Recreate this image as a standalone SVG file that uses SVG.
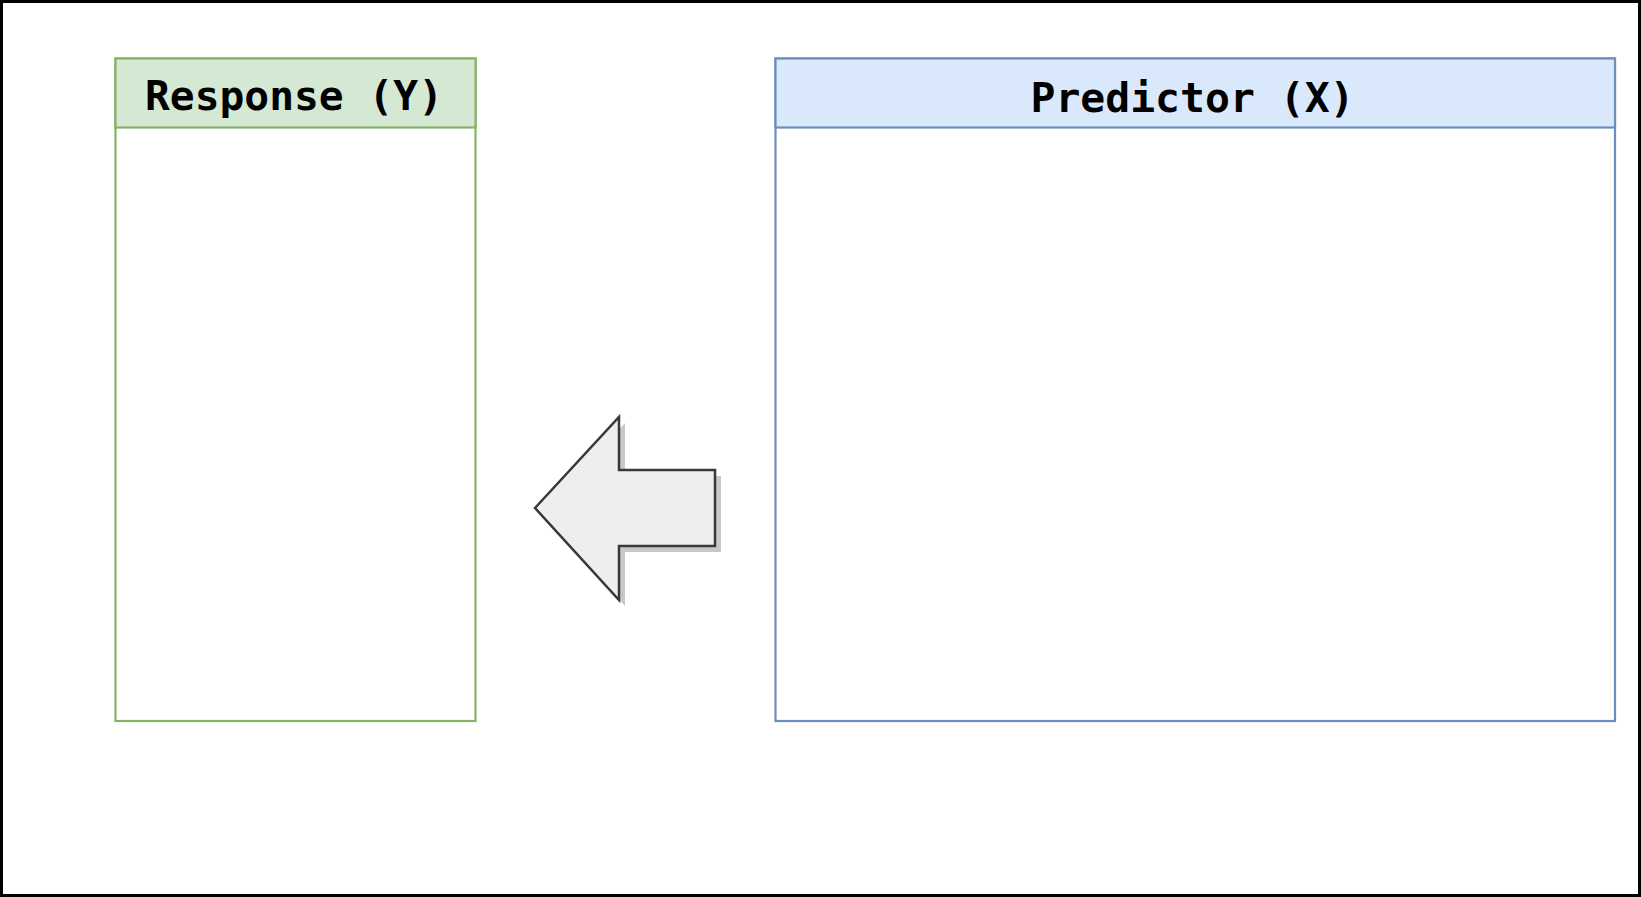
<svg xmlns="http://www.w3.org/2000/svg" width="1641" height="897" viewBox="0 0 1641 897">
<style>
.title{font-family:"DejaVu Sans Mono",monospace;font-weight:bold;font-size:40px;fill:#000;text-anchor:middle}
</style>
<rect x="0" y="0" width="1641" height="897" fill="#fff"/>
<rect id="frame" x="1.5" y="1.5" width="1638" height="894" fill="none" stroke="#000" stroke-width="3"/>
<g id="response">
<rect x="115.5" y="58.5" width="360" height="662.5" fill="#fff" stroke="#82b366" stroke-width="2.2"/>
<rect x="115.5" y="58.5" width="360" height="69" fill="#d5e8d4" stroke="#82b366" stroke-width="2.2"/>
<text class="title" x="294" y="110" textLength="298" lengthAdjust="spacingAndGlyphs">Response (Y)</text>
</g>
<g id="predictor">
<rect x="775.5" y="58.5" width="839.5" height="662.5" fill="#fff" stroke="#6c8ebf" stroke-width="2.2"/>
<rect x="775.5" y="58.5" width="839.5" height="69" fill="#dae8fc" stroke="#6c8ebf" stroke-width="2.2"/>
<text class="title" x="1192.5" y="112" textLength="324" lengthAdjust="spacingAndGlyphs">Predictor (X)</text>
</g>
<g id="connectors">
<g id="arrow">
<polygon points="541,514 625,423 625,476 721,476 721,552 625,552 625,606" fill="#c8c8c8"/>
<polygon points="535,508 619,417 619,470 715,470 715,546 619,546 619,600" fill="#eeeeee" stroke="#36393d" stroke-width="2.5"/>
</g>
</g>
</svg>
